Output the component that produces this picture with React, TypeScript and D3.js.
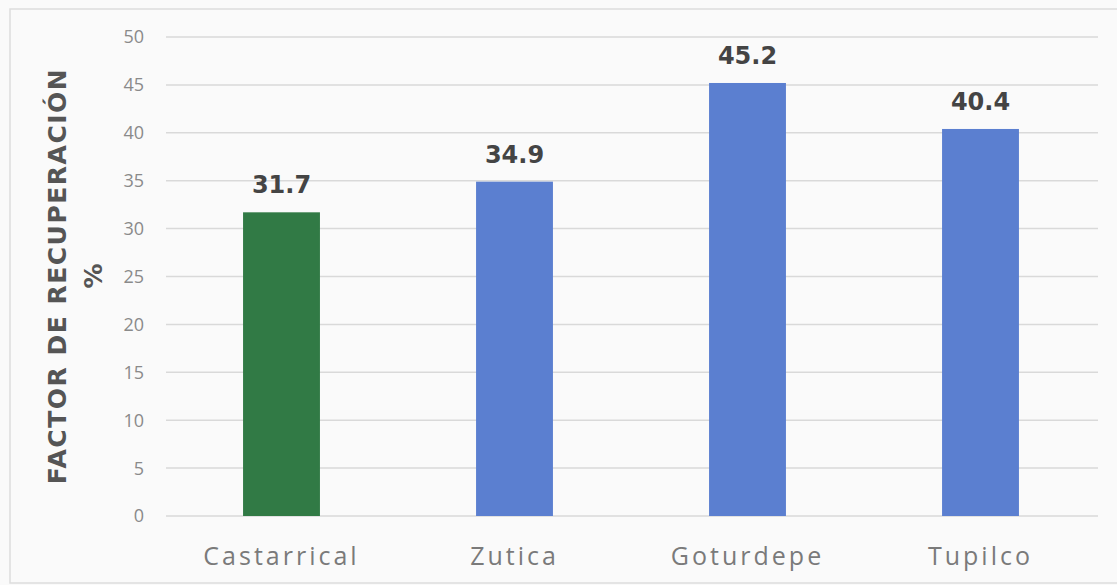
import React from "react";
import * as d3 from "d3";

const categories = ["Castarrical", "Zutica", "Goturdepe", "Tupilco"];
const values = [31.7, 34.9, 45.2, 40.4];
const barColors = ["#317a45", "#5b7fd0", "#5b7fd0", "#5b7fd0"];
const yTicks = [0, 5, 10, 15, 20, 25, 30, 35, 40, 45, 50];

const W = 1117;
const H = 585;
const WIDE = "'DejaVu Sans', 'Open Sans', sans-serif";
const LIGHT = "'Open Sans', 'DejaVu Sans', sans-serif";

export default function App() {
  const x = d3
    .scaleBand<string>()
    .domain(categories)
    .range([165, 1097])
    .paddingInner(0.67)
    .paddingOuter(0.335);
  const y = d3.scaleLinear().domain([0, 50]).range([516, 37]);

  return (
    <svg
      width={W}
      height={H}
      style={{ position: "absolute", left: 0, top: 0, background: "#fafafa" }}
    >
      <rect x={0} y={0} width={W} height={H} fill="#fafafa" />
      <rect x={10} y={9} width={W - 8} height={H - 11} fill="none" stroke="#dddddd" strokeWidth={1.5} />
      {yTicks.map((t) => (
        <g key={t}>
          <line x1={166} x2={1098} y1={y(t)} y2={y(t)} stroke="#d9d9d9" strokeWidth={1.5} />
          <text
            x={144}
            y={y(t)}
            dy="0.36em"
            textAnchor="end"
            fontFamily={LIGHT}
            fontSize={18}
            fill="#8a8a8a"
          >
            {t}
          </text>
        </g>
      ))}
      {categories.map((c, i) => (
        <g key={c}>
          <rect
            x={x(c)!}
            y={y(values[i])}
            width={x.bandwidth()}
            height={y(0) - y(values[i])}
            fill={barColors[i]}
          />
          <text
            x={x(c)! + x.bandwidth() / 2}
            y={y(values[i]) - 19}
            textAnchor="middle"
            fontFamily={WIDE}
            fontWeight={700}
            fontSize={24}
            fill="#444444"
          >
            {values[i].toFixed(1)}
          </text>
          <text
            x={x(c)! + x.bandwidth() / 2}
            y={565}
            textAnchor="middle"
            fontFamily={LIGHT}
            fontSize={25}
            letterSpacing={3}
            fill="#7a7a7a"
          >
            {c}
          </text>
        </g>
      ))}
      <g transform="translate(57,276) rotate(-90)">
        <text
          x={0}
          y={0}
          dy="0.36em"
          textAnchor="middle"
          fontFamily={WIDE}
          fontWeight={700}
          fontSize={25}
          letterSpacing={1.5}
          fill="#555555"
        >
          FACTOR DE RECUPERACIÓN
        </text>
        <text
          x={0}
          y={36}
          dy="0.36em"
          textAnchor="middle"
          fontFamily={WIDE}
          fontWeight={700}
          fontSize={25}
          fill="#555555"
        >
          %
        </text>
      </g>
    </svg>
  );
}
